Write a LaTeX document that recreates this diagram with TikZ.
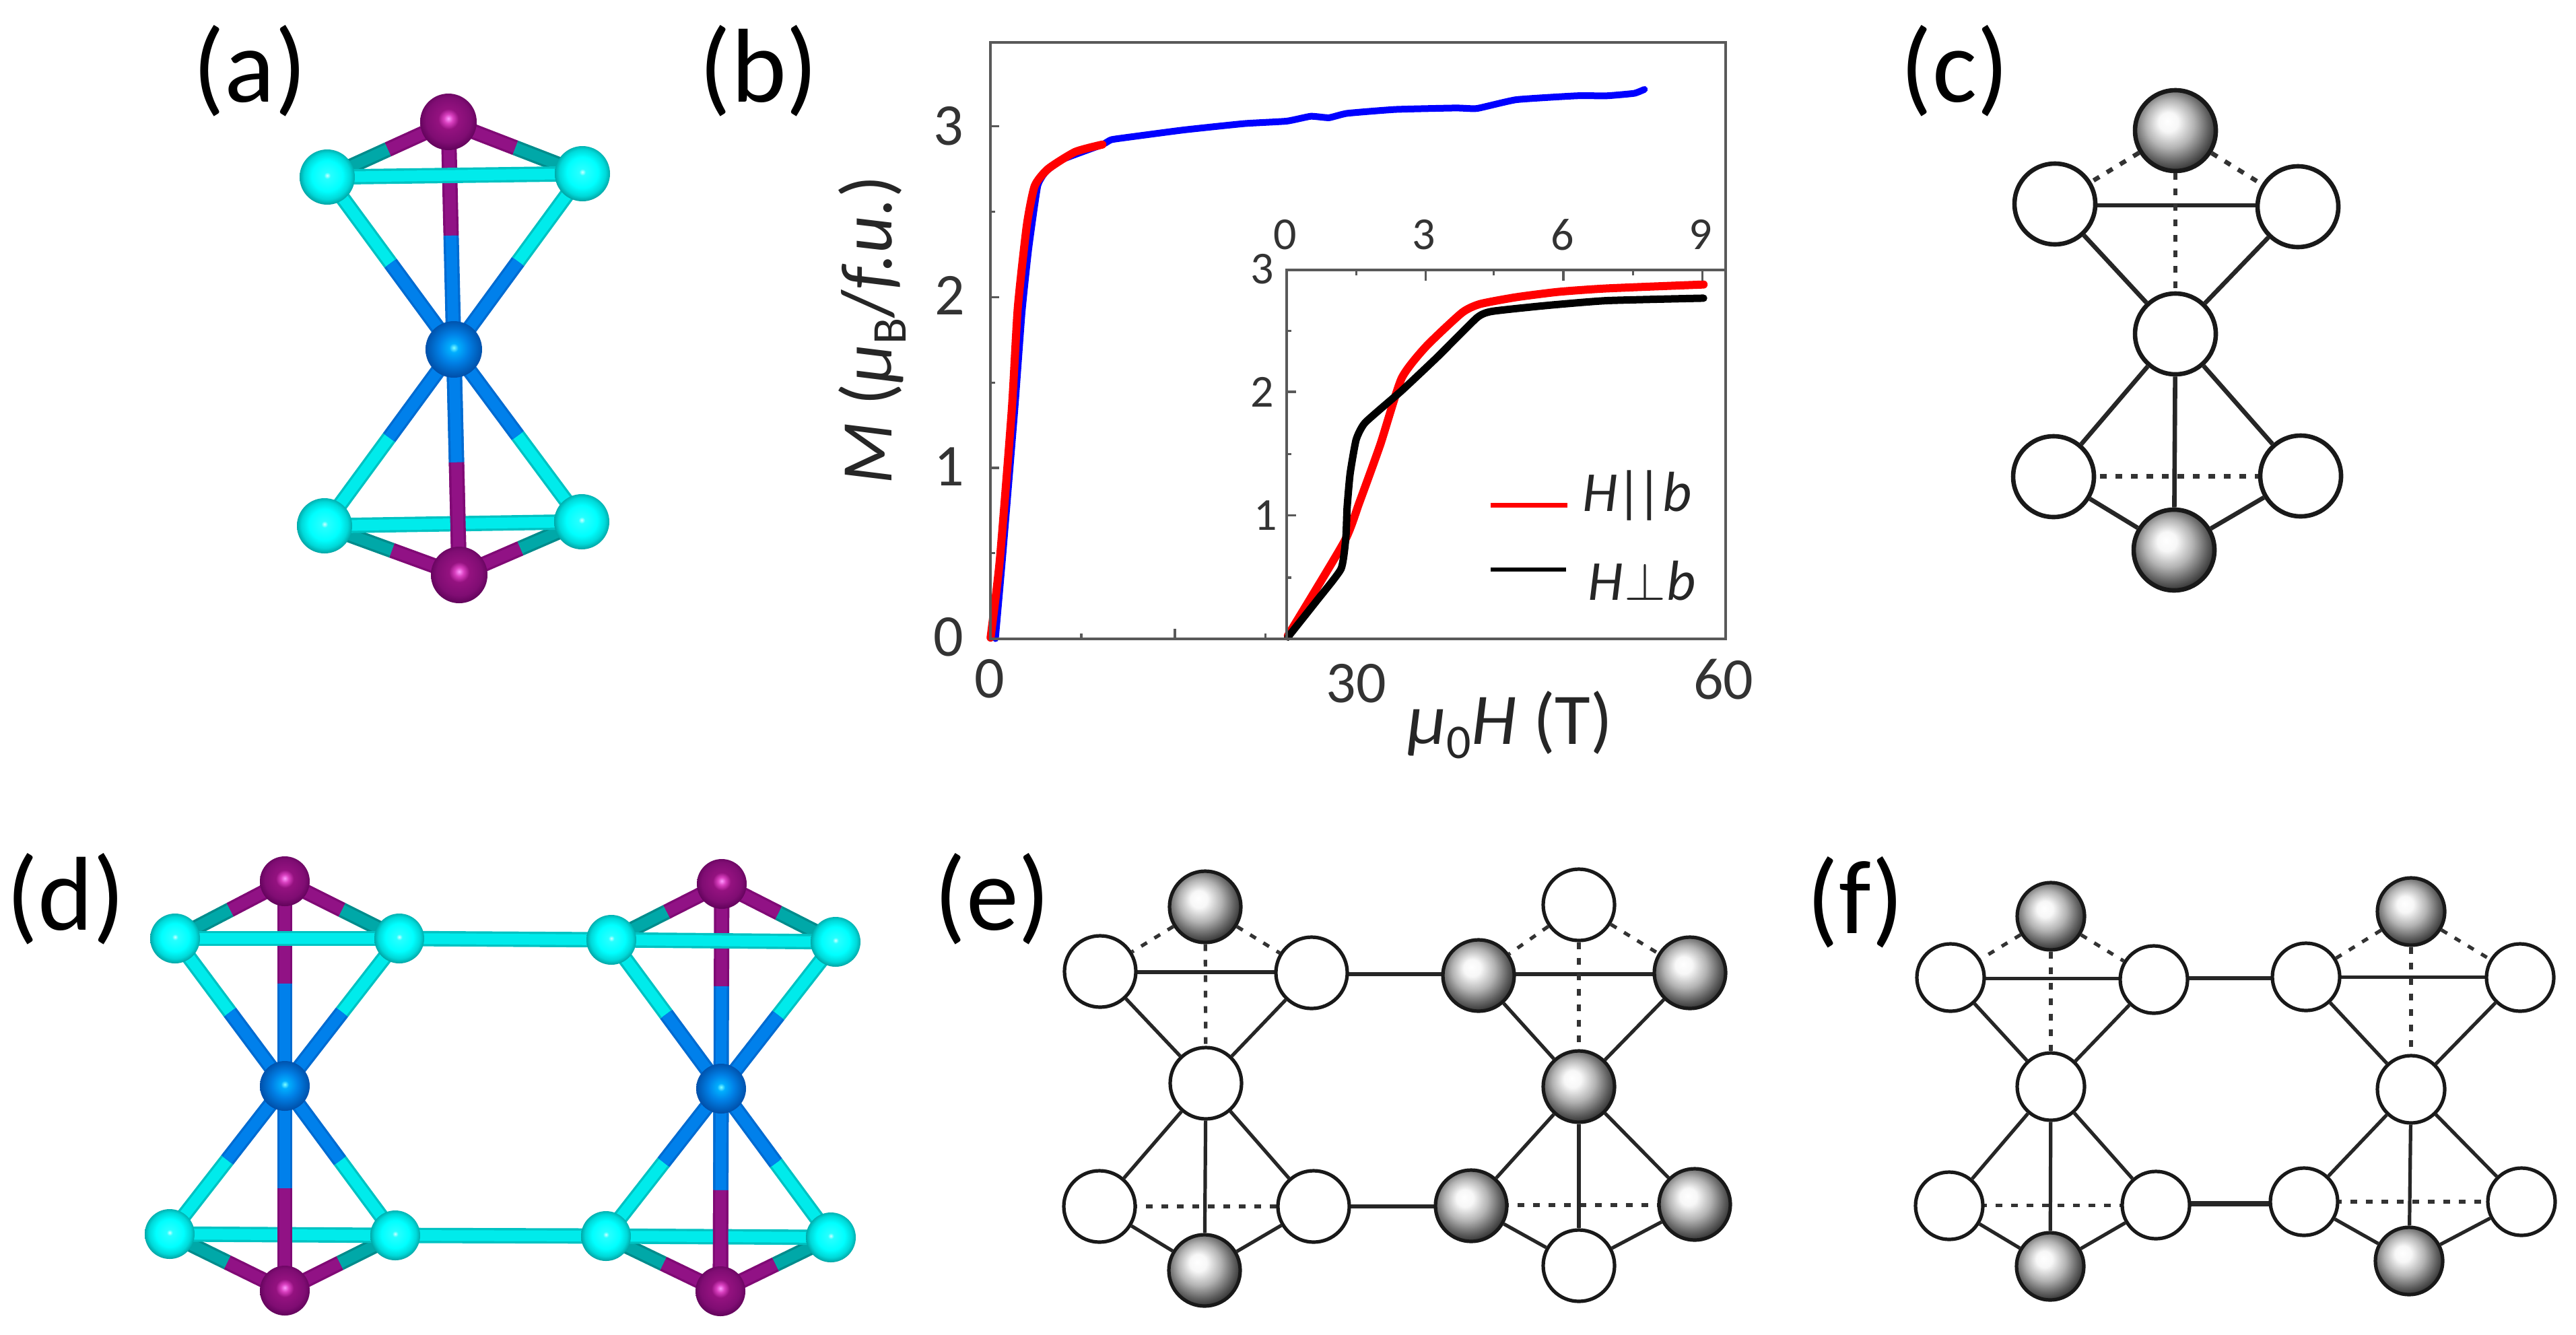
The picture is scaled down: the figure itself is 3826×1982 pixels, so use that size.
\documentclass[tikz,border=0pt]{standalone}
\usepackage{fontspec}
\setmainfont{Carlito}
\usetikzlibrary{calc}
\pgfdeclarelayer{bondlayer}
\pgfsetlayers{bondlayer,main}
\pgfdeclareradialshading{atomcy}{\pgfqpoint{0bp}{1.5bp}}{rgb(0bp)=(.8,1,1);rgb(3bp)=(.15,1,1);rgb(14bp)=(0,1,1);rgb(21bp)=(0,.85,.85);rgb(26bp)=(0,.62,.62);rgb(50bp)=(0,.62,.62)}
\pgfdeclareradialshading{atompu}{\pgfqpoint{0bp}{3bp}}{rgb(0bp)=(1,.6,1);rgb(4bp)=(.85,.25,.75);rgb(9bp)=(.58,.07,.5);rgb(20bp)=(.5,.05,.45);rgb(28bp)=(.35,0,.33);rgb(50bp)=(.35,0,.33)}
\pgfdeclareradialshading{atombl}{\pgfqpoint{0bp}{1.5bp}}{rgb(0bp)=(.5,1,1);rgb(4bp)=(0,.68,1);rgb(13bp)=(0,.5,.9);rgb(26bp)=(0,.3,.65);rgb(50bp)=(0,.3,.65)}
\pgfdeclareradialshading{atomgr}{\pgfqpoint{-5bp}{6bp}}{rgb(0bp)=(1,1,1);rgb(6bp)=(.97,.97,.97);rgb(15bp)=(.7,.7,.7);rgb(23bp)=(.38,.38,.38);rgb(31bp)=(.08,.08,.08);rgb(50bp)=(0,0,0)}
\definecolor{cyE}{rgb}{0,.76,.76}\definecolor{cyC}{rgb}{0,.92,.92}
\definecolor{blE}{rgb}{0,.42,.82}\definecolor{blC}{rgb}{0,.5,.92}
\definecolor{puE}{rgb}{.5,.04,.46}\definecolor{puC}{rgb}{.57,.07,.52}
\definecolor{teE}{rgb}{0,.55,.55}\definecolor{teC}{rgb}{0,.66,.66}
\definecolor{axgr}{gray}{.35}
\def\lw{3.3pt}
\tikzset{
 lab/.style={inner sep=0pt,font=\fontsize{78}{90}\selectfont,text=black},
 tlab/.style={inner sep=0pt,font=\fontsize{44}{50}\selectfont,text=black!80},
 ilab/.style={inner sep=0pt,font=\fontsize{34}{40}\selectfont,text=black!80},
 axlab/.style={inner sep=0pt,font=\fontsize{54}{62}\selectfont,text=black!85},
 leglab/.style={inner sep=0pt,font=\fontsize{42}{50}\selectfont,text=black!85},
 bcy/.style={draw=cyE,double=cyC,line width=1.7pt,double distance=8pt},
 bbl/.style={draw=blE,double=blC,line width=1.7pt,double distance=8pt},
 bpu/.style={draw=puE,double=puC,line width=1.7pt,double distance=8pt},
 bte/.style={draw=teE,double=teC,line width=1.7pt,double distance=8pt},
 acy/.style={circle,inner sep=0pt,shading=atomcy,minimum size=#1},
 apu/.style={circle,inner sep=0pt,shading=atompu,minimum size=#1},
 abl/.style={circle,inner sep=0pt,shading=atombl,minimum size=#1},
 whc/.style={circle,inner sep=0pt,line width=\lw,draw=black!90,fill=white,minimum size=#1},
 grc/.style={circle,inner sep=0pt,line width=\lw,draw=black!90,shading=atomgr,minimum size=#1},
 sol/.style={draw=black!85,line width=\lw},
 dot/.style={draw=black!80,line width=\lw,dash pattern=on 5pt off 6.5pt},
 axf/.style={draw=axgr,line width=2pt},
 tickm/.style={draw=axgr,line width=1.6pt},
 cblue/.style={draw=blue,line width=5pt,line cap=round,line join=round},
 cred/.style={draw=red,line width=6pt,line cap=round,line join=round},
 cblack/.style={draw=black,line width=5.5pt,line cap=round,line join=round},
}
\newcommand{\tbond}[4]{\draw[#3] (#1.center) -- ($(#1)!.5!(#2)$);\draw[#4] ($(#1)!.5!(#2)$) -- (#2.center);}
\newcommand{\colorcluster}[1]{%
 \tbond{#1t}{#1c}{bpu}{bbl}
 \tbond{#1b}{#1c}{bpu}{bbl}
 \tbond{#1t}{#1tl}{bpu}{bte}
 \tbond{#1t}{#1tr}{bpu}{bte}
 \tbond{#1tl}{#1c}{bcy}{bbl}
 \tbond{#1tr}{#1c}{bcy}{bbl}
 \tbond{#1bl}{#1c}{bcy}{bbl}
 \tbond{#1br}{#1c}{bcy}{bbl}
 \tbond{#1b}{#1bl}{bpu}{bte}
 \tbond{#1b}{#1br}{bpu}{bte}
 \draw[bcy] (#1tl.center) -- (#1tr.center);
 \draw[bcy] (#1bl.center) -- (#1br.center);
 \tbond{#1b}{#1c}{bpu}{bbl}
}
\newcommand{\levelline}[3]{\path ($(#2)!.5!(#3)$) coordinate (mm); \draw[#1] (#2.center |- mm) -- (#3.center |- mm);}
\newcommand{\schemcluster}[1]{%
 \draw[dot] (#1t) -- (#1tl); \draw[dot] (#1t) -- (#1tr); \draw[dot] (#1t) -- (#1c);
 \draw[sol] (#1tl) -- (#1c); \draw[sol] (#1tr) -- (#1c);
 \draw[sol] (#1c) -- (#1bl); \draw[sol] (#1c) -- (#1br); \draw[sol] (#1c) -- (#1b);
 \draw[sol] (#1bl) -- (#1b); \draw[sol] (#1br) -- (#1b);
 \begin{pgfonlayer}{bondlayer}
 \levelline{sol}{#1tl}{#1tr}
 \levelline{dot}{#1bl}{#1br}
 \end{pgfonlayer}
}
\begin{document}
\begin{tikzpicture}[x=0.5pt,y=-0.5pt]
\begin{pgfonlayer}{bondlayer}
\fill[white] (0,0) rectangle (3826,1982);
\end{pgfonlayer}
\useasboundingbox (0,0) rectangle (3826,1982);

\node[lab] (la) at (371,105) {(a)};
\node[lab] (lb) at (1127,105) {(b)};
\node[lab] (lc) at (2903,105) {(c)};
\node[lab] (ld) at (98,1335) {(d)};
\node[lab] (le) at (1474,1335) {(e)};
\node[lab] (lf) at (2756,1340) {(f)};

% panel (a)
\node[apu=42pt] (at) at (666,181) {};
\node[acy=41pt] (atl) at (486,263) {};
\node[acy=41pt] (atr) at (865,258) {};
\node[abl=42pt] (ac) at (674,519) {};
\node[acy=41pt] (abl) at (482,781) {};
\node[acy=41pt] (abr) at (864,775) {};
\node[apu=42pt] (ab) at (682,854) {};
\begin{pgfonlayer}{bondlayer}\colorcluster{a}\end{pgfonlayer}

% panel (d)
\node[apu=37pt] (dat) at (423,1309) {};
\node[acy=37pt] (datl) at (260,1394) {};
\node[acy=37pt] (datr) at (593,1394) {};
\node[abl=37pt] (dac) at (423,1613) {};
\node[acy=37pt] (dabl) at (252,1833) {};
\node[acy=37pt] (dabr) at (587,1835) {};
\node[apu=37pt] (dab) at (423,1917) {};
\node[apu=37pt] (dbt) at (1072,1313) {};
\node[acy=37pt] (dbtl) at (908,1396) {};
\node[acy=37pt] (dbtr) at (1241,1399) {};
\node[abl=37pt] (dbc) at (1071,1617) {};
\node[acy=37pt] (dbbl) at (900,1836) {};
\node[acy=37pt] (dbbr) at (1234,1838) {};
\node[apu=37pt] (dbb) at (1070,1918) {};
\begin{pgfonlayer}{bondlayer}
\colorcluster{da}\colorcluster{db}
\draw[bcy] (datr.center) -- (dbtl.center);
\draw[bcy] (dabr.center) -- (dbbl.center);
\end{pgfonlayer}

% panel (c)
\def\lw{3.3pt}
\node[grc=60pt] (ct) at (3231,194) {};
\node[whc=60pt] (ctl) at (3052,303) {};
\node[whc=60pt] (ctr) at (3413,307) {};
\node[whc=60pt] (cc) at (3231,496) {};
\node[whc=60pt] (cbl) at (3050,708) {};
\node[whc=60pt] (cbr) at (3417,707) {};
\node[grc=60pt] (cb) at (3229,817) {};
\schemcluster{c}

% panel (e)
\def\lw{2.6pt}
\node[grc=53pt] (eat) at (1790,1347) {};
\node[whc=53pt] (eatl) at (1634,1443) {};
\node[whc=53pt] (eatr) at (1948,1445) {};
\node[whc=53pt] (eac) at (1791,1609) {};
\node[whc=53pt] (eabl) at (1633,1792) {};
\node[whc=53pt] (eabr) at (1951,1792) {};
\node[grc=53pt] (eab) at (1789,1887) {};
\node[whc=53pt] (ebt) at (2345,1344) {};
\node[grc=53pt] (ebtl) at (2196,1449) {};
\node[grc=53pt] (ebtr) at (2510,1445) {};
\node[grc=53pt] (ebc) at (2345,1614) {};
\node[grc=53pt] (ebbl) at (2185,1791) {};
\node[grc=53pt] (ebbr) at (2517,1789) {};
\node[whc=53pt] (ebb) at (2345,1880) {};
\schemcluster{ea}\schemcluster{eb}
\begin{pgfonlayer}{bondlayer}
\levelline{sol,line width=3pt}{eatr}{ebtl}
\levelline{sol,line width=3pt}{eabr}{ebbl}
\end{pgfonlayer}

% panel (f)
\def\lw{2.6pt}
\node[grc=50pt] (fat) at (3046,1361) {};
\node[whc=50pt] (fatl) at (2897,1452) {};
\node[whc=50pt] (fatr) at (3199,1455) {};
\node[whc=50pt] (fac) at (3046,1614) {};
\node[whc=50pt] (fabl) at (2895,1791) {};
\node[whc=50pt] (fabr) at (3202,1790) {};
\node[grc=50pt] (fab) at (3045,1881) {};
\node[grc=50pt] (fbt) at (3581,1354) {};
\node[whc=50pt] (fbtl) at (3425,1451) {};
\node[whc=50pt] (fbtr) at (3743,1452) {};
\node[whc=50pt] (fbc) at (3581,1618) {};
\node[whc=50pt] (fbbl) at (3422,1785) {};
\node[whc=50pt] (fbbr) at (3745,1785) {};
\node[grc=50pt] (fbb) at (3578,1873) {};
\schemcluster{fa}\schemcluster{fb}
\begin{pgfonlayer}{bondlayer}
\levelline{sol,line width=3pt}{fatr}{fbtl}
\levelline{sol,line width=4pt}{fabr}{fbbl}
\end{pgfonlayer}

% panel (b)
\begin{scope}[shift={(1220,30)},x=0.4487pt,y=-0.3622pt]
 \draw[cblue] plot[smooth,tension=.25] coordinates {(288,1268)(300,1100)(320,800)(332,600)(343,470)(358,340)(372,310)(400,285)(465,255)(480,245)(520,238)(600,225)(700,212)(770,207)(810,197)(840,200)(870,191)(950,183)(1050,180)(1085,181)(1150,163)(1250,155)(1300,155)(1345,150)(1362,142)};
 \draw[cred] plot[smooth,tension=.35] coordinates {(280,1266)(295,1110)(315,800)(325,590)(340,420)(353,340)(375,305)(420,270)(465,255)};
 \draw[cred] plot[smooth,tension=.35] coordinates {(772,1262)(865,1070)(890,990)(925,870)(960,735)(1000,670)(1060,600)(1090,582)(1150,568)(1220,557)(1300,550)(1460,542)};
 \draw[cblack] plot[smooth,tension=.3] coordinates {(772,1265)(820,1190)(860,1125)(868,1060)(870,1000)(875,930)(885,860)(900,825)(960,760)(1020,690)(1085,610)(1110,597)(1200,585)(1300,575)(1460,570)};
 \draw[axf] (280,45) rectangle (1496,1268);
 \draw[axf] (770,1268) -- (770,512) -- (1496,512);
 \foreach \yy in {217,568,918} \draw[tickm] (280,\yy) -- ++(14,0);
 \foreach \yy in {393,743,1093} \draw[tickm] (280,\yy) -- ++(7,0);
 \foreach \xx in {585} \draw[tickm] (\xx,1268) -- ++(0,-20);
 \foreach \xx in {430,735} \draw[tickm] (\xx,1268) -- ++(0,-11);
 \foreach \xx in {1000,1228,1458} \draw[tickm] (\xx,512) -- ++(0,22);
 \foreach \xx in {885,1113,1343} \draw[tickm] (\xx,512) -- ++(0,11);
 \foreach \yy in {762,1015} \draw[tickm] (770,\yy) -- ++(16,0);
 \foreach \yy in {637,890,1143} \draw[tickm] (770,\yy) -- ++(8,0);
 \node[tlab] (y0) at (210,1265) {0};
 \node[tlab] (y1) at (212,915) {1};
 \node[tlab] (y2) at (213,565) {2};
 \node[tlab] (y3) at (210,217) {3};
 \node[tlab] (x0) at (278,1350) {0};
 \node[tlab] (x30) at (885,1360) {30};
 \node[tlab] (x60) at (1493,1352) {60};
 \node[ilab] (ix0) at (768,440) {0};
 \node[ilab] (ix3) at (997,440) {3};
 \node[ilab] (ix6) at (1227,440) {6};
 \node[ilab] (ix9) at (1455,440) {9};
 \node[ilab] (iy3) at (730,510) {3};
 \node[ilab] (iy2) at (730,762) {2};
 \node[ilab] (iy1) at (735,1015) {1};
 \node[axlab,rotate=90] (ylab) at (84,635) {\textit{M} (\textit{μ}\raisebox{-.2em}{\fontsize{36}{40}\selectfont B}/\textit{f.u.})};
 \node[axlab] (xlab) at (1140,1445) {\textit{μ}\raisebox{-.2em}{\fontsize{36}{40}\selectfont 0}\textit{H} (T)};
 \coordinate (lrA) at (1108,995); \coordinate (lrB) at (1235,995);
 \coordinate (lkA) at (1108,1127); \coordinate (lkB) at (1232,1127);
 \draw[draw=red,line width=3.5pt] (lrA) -- (lrB);
 \draw[draw=black,line width=3pt] (lkA) -- (lkB);
 \node[leglab] (lgr) at (1350,975) {\textit{H}\kern-.03em|\kern-.1em|\textit{b}};
 \node[leglab] (lgk) at (1358,1150) {\textit{H}\kern.02em\scalebox{1.6}{$\perp$}\kern.02em\textit{b}};
\end{scope}
\end{tikzpicture}
\end{document}
